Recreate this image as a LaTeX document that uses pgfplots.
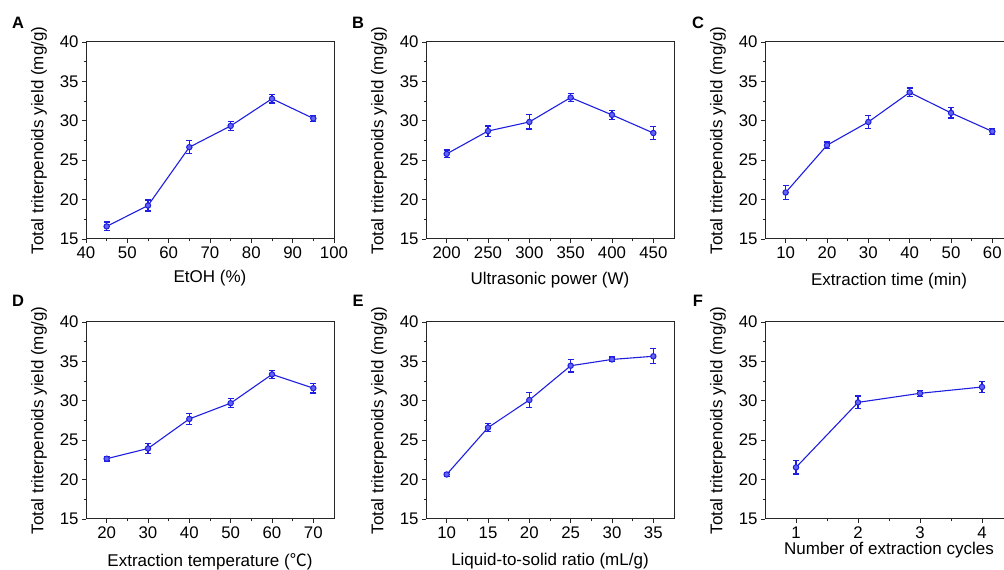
\documentclass[border=0pt]{standalone}
\usepackage{pgfplots}
\pgfplotsset{compat=1.18}
\usepackage{fontspec}
\setmainfont{Liberation Sans}
\newfontfamily\cjk{Noto Sans CJK SC}
\definecolor{lc}{RGB}{30,30,225}
\definecolor{mc}{RGB}{100,100,240}

\pgfplotsset{
  panel/.style={
    scale only axis, width=248pt, height=197pt, anchor=south west,
    ymin=15, ymax=40, ytick={15,20,...,40},
    minor x tick num=1, minor y tick num=1,
    tick pos=left, tick align=outside,
    major tick length=4pt, minor tick length=2.5pt,
    axis line style={black!85, line width=1pt},
    every tick/.style={black!85, line width=0.9pt},
    tick label style={font=\fontsize{16.8}{18}\selectfont},
    /pgf/number format/assume math mode=true,
    ylabel={Total triterpenoids yield (mg/g)},
    every axis y label/.style={at={(axis description cs:-0.19,0.5)}, rotate=90, anchor=center, font=\fontsize{17}{20}\selectfont},
    every axis x label/.style={at={(axis description cs:0.5,-0.205)}, anchor=center, font=\fontsize{17}{20}\selectfont},
  },
  ser/.style={color=lc, line width=1.1pt, mark=*, mark size=2.7pt,
    mark options={fill=mc, draw=lc, solid, line width=1pt},
    error bars/.cd, y dir=both, y explicit,
    error bar style={line width=1.3pt, color=lc},
    error mark options={rotate=90, mark size=3pt, line width=1.2pt, color=lc}},
}

\begin{document}
\begin{tikzpicture}
\useasboundingbox (0,0) rectangle (1004pt,570pt);
\clip (0,0) rectangle (1004pt,570pt);

% A
\begin{axis}[panel, at={(86pt,331pt)}, xmin=40, xmax=100, xtick={40,50,...,100}, xlabel={EtOH (\%)},
  every axis x label/.append style={at={(axis description cs:0.5,-0.198)}}]
\addplot[ser] table[x=x,y=y,y error=e] {
x y e
45 16.6 0.55
55 19.25 0.7
65 26.65 0.85
75 29.35 0.6
85 32.8 0.55
95 30.3 0.4
};
\end{axis}

% B
\begin{axis}[panel, at={(426pt,331pt)}, xmin=175, xmax=475, xtick={200,250,...,450}, xlabel={Ultrasonic power (W)},
  every axis x label/.append style={at={(axis description cs:0.5,-0.208)}}]
\addplot[ser] table[x=x,y=y,y error=e] {
x y e
200 25.8 0.5
250 28.7 0.65
300 29.85 0.9
350 32.95 0.5
400 30.75 0.6
450 28.45 0.8
};
\end{axis}

% C
\begin{axis}[panel, at={(765pt,331pt)}, xmin=5, xmax=65, xtick={10,20,...,60}, xlabel={Extraction time (min)},
  every axis x label/.append style={at={(axis description cs:0.5,-0.213)}}]
\addplot[ser] table[x=x,y=y,y error=e] {
x y e
10 20.9 0.9
20 26.9 0.4
30 29.85 0.85
40 33.6 0.55
50 31.0 0.65
60 28.65 0.4
};
\end{axis}

% D
\begin{axis}[panel, at={(86pt,51pt)}, xmin=15, xmax=75, xtick={20,30,...,70}, xlabel={Extraction temperature ({\cjk ℃})},
  every axis x label/.append style={at={(axis description cs:0.5,-0.216)}}]
\addplot[ser] table[x=x,y=y,y error=e] {
x y e
20 22.65 0.3
30 23.95 0.6
40 27.7 0.7
50 29.7 0.6
60 33.35 0.5
70 31.6 0.6
};
\end{axis}

% E
\begin{axis}[panel, at={(426pt,51pt)}, xmin=7.5, xmax=37.5, xtick={10,15,...,35}, xlabel={Liquid-to-solid ratio (mL/g)},
  every axis x label/.append style={at={(axis description cs:0.5,-0.213)}}]
\addplot[ser] table[x=x,y=y,y error=e] {
x y e
10 20.65 0.3
15 26.6 0.5
20 30.1 0.95
25 34.45 0.8
30 35.25 0.3
35 35.65 0.95
};
\end{axis}

% F
\begin{axis}[panel, at={(765pt,51pt)}, xmin=0.5, xmax=4.5, xtick={1,2,3,4}, xlabel={Number of extraction cycles},
  every axis x label/.append style={at={(axis description cs:0.5,-0.157)}}]
\addplot[ser] table[x=x,y=y,y error=e] {
x y e
1 21.55 0.85
2 29.8 0.8
3 30.95 0.4
4 31.75 0.65
};
\end{axis}

\begin{scope}[every node/.style={font=\fontsize{16.5}{18}\selectfont\bfseries, inner sep=0pt}]
\node at (18pt,547pt) {A};
\node at (358pt,547pt) {B};
\node at (698pt,547pt) {C};
\node at (18pt,269pt) {D};
\node at (358pt,269pt) {E};
\node at (698pt,269pt) {F};
\end{scope}
\end{tikzpicture}
\end{document}
